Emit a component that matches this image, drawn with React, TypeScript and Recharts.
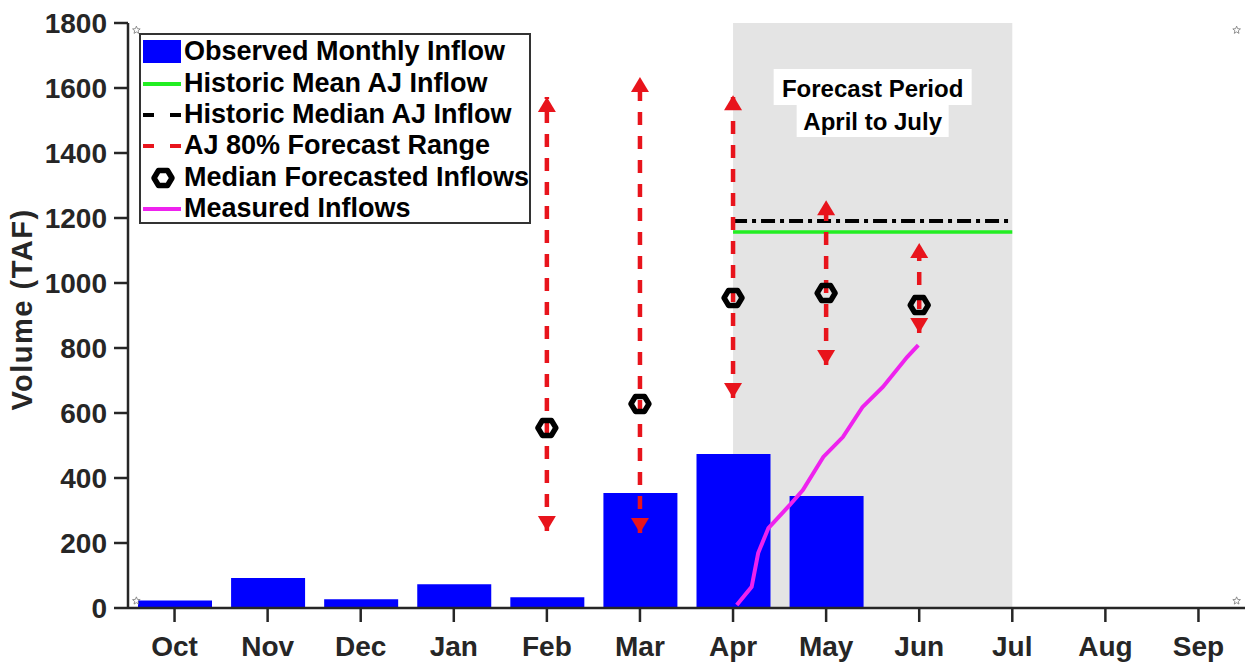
import {
  ComposedChart,
  Bar,
  Line,
  Scatter,
  XAxis,
  YAxis,
  ReferenceArea,
  Legend,
} from "recharts";

const months = ["Oct", "Nov", "Dec", "Jan", "Feb", "Mar", "Apr", "May", "Jun", "Jul", "Aug", "Sep"];
const observed = [23, 92, 27, 73, 33, 354, 474, 345];
const yTicks = [0, 200, 400, 600, 800, 1000, 1200, 1400, 1600, 1800];

// forecast months (Feb..Jun as month index 5..9)
const fcMonths = [5, 6, 7, 8, 9];
const fcMedian = [554, 628, 954, 969, 932];
const fcHigh = [1572, 1634, 1578, 1255, 1123];
const fcLow = [237, 231, 646, 748, 846];

const histMean = 1157;
const histMedian = 1191;
const periodStart = 7;
const periodEnd = 10;

const measuredX = [7.04, 7.2, 7.27, 7.38, 7.61, 7.75, 7.97, 8.18, 8.39, 8.61, 8.87, 8.99];
const measuredY = [9, 65, 169, 246, 317, 363, 465, 526, 618, 680, 772, 809];

const cornerX = [0.59, 12.41];
const cornerY = [22, 1778];

const FONT = '"Liberation Sans", Arial, Helvetica, sans-serif';
const AXIS = "#262626";
const RED = "#e8141c";
const BLUE = "#0000ff";
const GREEN = "#22ee22";
const MAGENTA = "#ee22ee";

const barData = months.map((m, i) => ({ x: i + 1, observed: observed[i] ?? null }));
const meanData = [
  { x: periodStart, y: histMean },
  { x: periodEnd, y: histMean },
];
const medianData = [
  { x: periodStart, y: histMedian },
  { x: periodEnd, y: histMedian },
];
// one line with gaps between months
const rangeData = fcMonths.flatMap((m, i) => [
  { x: m, y: fcLow[i] },
  { x: m, y: fcHigh[i] },
  { x: m, y: null },
]);
const highData = fcMonths.map((m, i) => ({ x: m, y: fcHigh[i] }));
const lowData = fcMonths.map((m, i) => ({ x: m, y: fcLow[i] }));
const markerData = fcMonths.map((m, i) => ({ x: m, y: fcMedian[i] }));
const measuredData = measuredX.map((x, i) => ({ x, y: measuredY[i] }));
const cornerData = cornerX.flatMap((x) => cornerY.map((y) => ({ x, y })));

const ArrowUp = (p: any) => (
  <polygon points={`${p.cx},${p.cy} ${p.cx - 9},${p.cy + 15} ${p.cx + 9},${p.cy + 15}`} fill={RED} />
);
const ArrowDown = (p: any) => (
  <polygon points={`${p.cx},${p.cy} ${p.cx - 9},${p.cy - 15} ${p.cx + 9},${p.cy - 15}`} fill={RED} />
);

const hexPoints = (cx: number, cy: number) =>
  `${cx - 9},${cy} ${cx - 4.5},${cy - 7.5} ${cx + 4.5},${cy - 7.5} ${cx + 9},${cy} ${cx + 4.5},${cy + 7.5} ${cx - 4.5},${cy + 7.5}`;

const Marker = (p: any) => (
  <polygon points={hexPoints(p.cx, p.cy)} fill="none" stroke="#000" strokeWidth={5.5} strokeLinejoin="round" />
);

const Star = (p: any) => {
  const pts = [];
  for (let k = 0; k < 10; k++) {
    const r = k % 2 === 0 ? 4 : 1.8;
    const a = -Math.PI / 2 + (k * Math.PI) / 5;
    pts.push(`${p.cx + r * Math.cos(a)},${p.cy + r * Math.sin(a)}`);
  }
  return <polygon points={pts.join(" ")} fill="none" stroke="#777" strokeWidth={0.8} />;
};

const ForecastLabel = (props: any) => {
  const vb = props.viewBox;
  const cx = vb.x + vb.width / 2;
  const top = vb.y;
  return (
    <g>
      <rect x={cx - 99} y={top + 46} width={198} height={36} fill="#fff" />
      <rect x={cx - 76} y={top + 81} width={152} height={33} fill="#fff" />
      <text x={cx} y={top + 65} textAnchor="middle" dominantBaseline="central" fontFamily={FONT} fontWeight="bold" fontSize={24} fill="#000">
        Forecast Period
      </text>
      <text x={cx} y={top + 98} textAnchor="middle" dominantBaseline="central" fontFamily={FONT} fontWeight="bold" fontSize={24} fill="#000">
        April to July
      </text>
    </g>
  );
};

const YLabel = (props: any) => {
  const vb = props.viewBox;
  const cy = vb.y + vb.height / 2 - 6;
  return (
    <text x={22} y={cy} transform={`rotate(-90 22 ${cy})`} textAnchor="middle" dominantBaseline="central" fontFamily={FONT} fontWeight="bold" fontSize={29} letterSpacing={1.5} fill={AXIS}>
      Volume (TAF)
    </text>
  );
};

const legendRows = [
  { label: "Observed Monthly Inflow", kind: "bar" },
  { label: "Historic Mean AJ Inflow", kind: "green" },
  { label: "Historic Median AJ Inflow", kind: "black" },
  { label: "AJ 80% Forecast Range", kind: "red" },
  { label: "Median Forecasted Inflows", kind: "marker" },
  { label: "Measured Inflows", kind: "magenta" },
];

const Swatch = ({ kind }: { kind: string }) => {
  let el = null;
  if (kind === "bar") el = <rect x={0} y={4} width={38} height={23} fill={BLUE} />;
  if (kind === "green") el = <line x1={0} x2={38} y1={16} y2={16} stroke={GREEN} strokeWidth={4} />;
  if (kind === "black") el = <line x1={0} x2={38} y1={16} y2={16} stroke="#000" strokeWidth={4} strokeDasharray="11 16" />;
  if (kind === "red") el = <line x1={0} x2={38} y1={16} y2={16} stroke={RED} strokeWidth={4} strokeDasharray="11 16" />;
  if (kind === "marker") el = <polygon points={hexPoints(20, 16)} fill="none" stroke="#000" strokeWidth={5.5} strokeLinejoin="round" />;
  if (kind === "magenta") el = <line x1={0} x2={38} y1={16} y2={16} stroke={MAGENTA} strokeWidth={4} />;
  return (
    <svg width={40} height={31} style={{ display: "block", flex: "none" }}>
      {el}
    </svg>
  );
};

const LegendBox = () => (
  <div
    style={{
      border: "2.5px solid #333",
      background: "#fff",
      width: 388,
      height: 186,
      boxSizing: "content-box",
      paddingTop: 1,
    }}
  >
    {legendRows.map((r) => (
      <div key={r.label} style={{ display: "flex", alignItems: "center", height: 31.4, paddingLeft: 2 }}>
        <Swatch kind={r.kind} />
        <span style={{ fontFamily: FONT, fontWeight: "bold", fontSize: 27, color: "#000", marginLeft: 1, whiteSpace: "nowrap", lineHeight: "31px" }}>
          {r.label}
        </span>
      </div>
    ))}
  </div>
);

const tickStyle = { fontFamily: FONT, fontWeight: "bold", fontSize: 28, fill: AXIS };

export default function App() {
  return (
    <div style={{ position: "absolute", left: 0, top: 0, background: "#fff" }}>
      <ComposedChart
        width={1254}
        height={667}
        data={barData}
        margin={{ top: 23, right: 9, bottom: 0, left: 0 }}
      >
        <XAxis
          dataKey="x"
          type="number"
          domain={[0.5, 12.5]}
          ticks={months.map((_, i) => i + 1)}
          tickFormatter={(v: number) => months[v - 1]}
          allowDataOverflow
          height={59}
          tickSize={14}
          tickMargin={14}
          tick={tickStyle}
          axisLine={{ stroke: AXIS, strokeWidth: 2.5 }}
          tickLine={{ stroke: AXIS, strokeWidth: 2.5 }}
        />
        <XAxis
          xAxisId="top"
          orientation="top"
          dataKey="x"
          type="number"
          domain={[0.5, 12.5]}
          ticks={months.map((_, i) => i + 1)}
          allowDataOverflow
          height={0}
          tickSize={14}
          tick={false}
          axisLine={{ stroke: AXIS, strokeWidth: 2.5 }}
          tickLine={{ stroke: AXIS, strokeWidth: 2.5 }}
        />
        <YAxis
          type="number"
          domain={[0, 1800]}
          ticks={yTicks}
          allowDataOverflow
          width={128}
          tickSize={14}
          tickMargin={7}
          tick={tickStyle}
          axisLine={{ stroke: AXIS, strokeWidth: 2.5 }}
          tickLine={{ stroke: AXIS, strokeWidth: 2.5 }}
          label={(p: any) => <YLabel {...p} />}
        />
        <YAxis
          yAxisId="right"
          orientation="right"
          type="number"
          domain={[0, 1800]}
          ticks={yTicks}
          allowDataOverflow
          width={0}
          tickSize={9}
          tick={false}
          axisLine={{ stroke: AXIS, strokeWidth: 2.5 }}
          tickLine={{ stroke: AXIS, strokeWidth: 2.5 }}
        />
        <ReferenceArea
          x1={periodStart}
          x2={periodEnd}
          y1={0}
          y2={1800}
          fill="#e4e4e4"
          fillOpacity={1}
          stroke="none"
          label={(p: any) => <ForecastLabel {...p} />}
        />
        <Bar dataKey="observed" fill={BLUE} barSize={74} isAnimationActive={false} />
        <Line xAxisId="top" data={meanData} dataKey="y" stroke={GREEN} strokeWidth={3.5} dot={false} isAnimationActive={false} />
        <Line xAxisId="top" data={medianData} dataKey="y" stroke="#000" strokeWidth={4} strokeDasharray="14 5 4 5" dot={false} isAnimationActive={false} />
        <Line xAxisId="top" data={rangeData} dataKey="y" stroke={RED} strokeWidth={4.5} strokeDasharray="13 11" dot={false} connectNulls={false} isAnimationActive={false} />
        <Line xAxisId="top" data={measuredData} dataKey="y" stroke={MAGENTA} strokeWidth={4} dot={false} isAnimationActive={false} />
        <Scatter xAxisId="top" data={highData} dataKey="y" shape={ArrowUp} isAnimationActive={false} />
        <Scatter xAxisId="top" data={lowData} dataKey="y" shape={ArrowDown} isAnimationActive={false} />
        <Scatter xAxisId="top" data={markerData} dataKey="y" shape={Marker} isAnimationActive={false} />
        <Scatter xAxisId="top" data={cornerData} dataKey="y" shape={Star} isAnimationActive={false} />
        <Legend
          layout="vertical"
          align="center"
          verticalAlign="middle"
          content={() => <LegendBox />}
          wrapperStyle={{ left: 139, top: 33, width: "auto", height: "auto" }}
        />
      </ComposedChart>
    </div>
  );
}
